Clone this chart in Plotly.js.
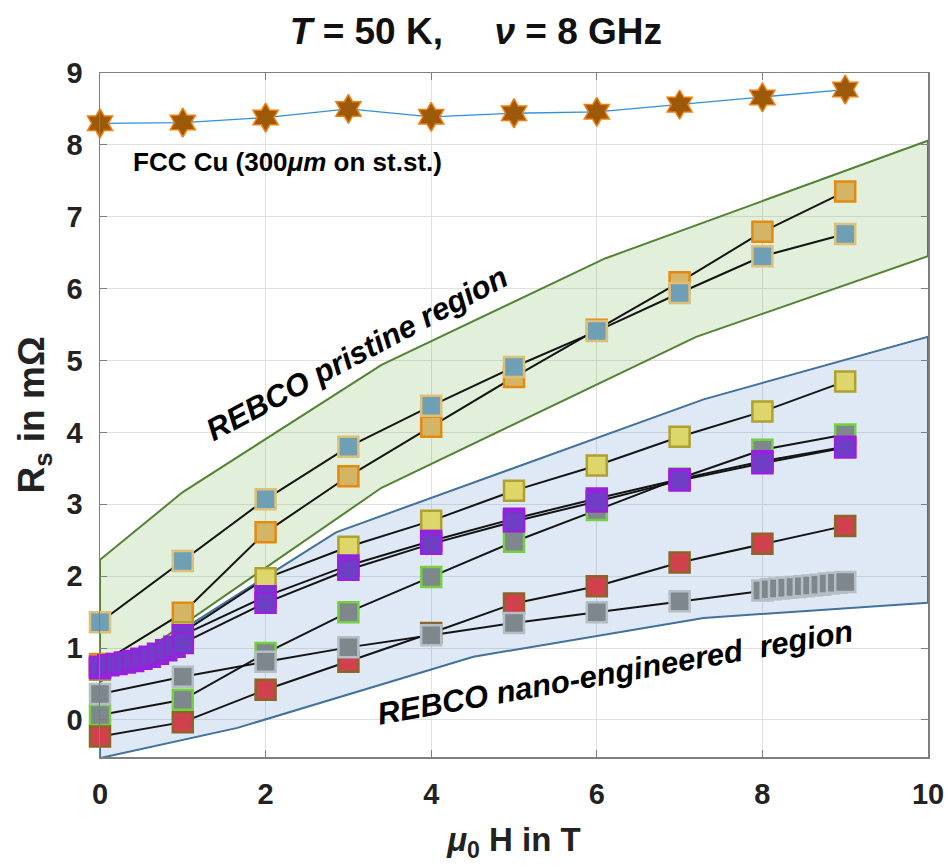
<!DOCTYPE html>
<html>
<head>
<meta charset="utf-8">
<script src="https://cdn.plot.ly/plotly-3.0.1.min.js"></script>
<style>html,body{margin:0;padding:0;background:#fff;}</style>
</head>
<body>
<div id="chart" style="width:948px;height:868px;"></div>
<script>
// ---- data ----
const xInt = [0, 1, 2, 3, 4, 5, 6, 7, 8, 9];

// FCC Cu reference (stars)
const cuY = [8.30, 8.31, 8.38, 8.50, 8.39, 8.44, 8.46, 8.56, 8.66, 8.77];

// REBCO pristine samples
const pristA_Y = [1.36, 2.21, 3.07, 3.80, 4.37, 4.91, 5.41, 5.94, 6.45, 6.76]; // steel-blue squares
const pristB_Y = [0.78, 1.49, 2.61, 3.39, 4.08, 4.77, 5.43, 6.09, 6.79, 7.35]; // tan squares

// REBCO nano-engineered samples
const yellowY = [0.70, 1.22, 1.97, 2.41, 2.77, 3.19, 3.54, 3.94, 4.29, 4.71];
const purple1X = [0, 0.1, 0.2, 0.3, 0.4, 0.5, 0.6, 0.7, 0.8, 0.9, 1.0, 2, 3, 4, 5, 6, 7, 8, 9];
const purple1Y = [0.74, 0.76, 0.78, 0.80, 0.82, 0.85, 0.88, 0.92, 0.97, 1.02, 1.07, 1.63, 2.09, 2.45, 2.76, 3.04, 3.33, 3.57, 3.79];
const purple2Y = [0.72, 1.18, 1.72, 2.15, 2.49, 2.80, 3.08, 3.35, 3.60, 3.80];
const greenGrayY = [0.07, 0.28, 0.93, 1.50, 1.99, 2.48, 2.92, 3.36, 3.76, 3.97];
const redY = [-0.23, -0.03, 0.42, 0.81, 1.21, 1.62, 1.86, 2.19, 2.45, 2.70];
const grayX = [0, 1, 2, 3, 4, 5, 6, 7, 8, 8.1, 8.2, 8.3, 8.4, 8.5, 8.6, 8.7, 8.8, 8.9, 9.0];
const grayY = [0.36, 0.60, 0.81, 1.01, 1.18, 1.35, 1.50, 1.65, 1.80, 1.82, 1.83, 1.84, 1.85, 1.86, 1.87, 1.88, 1.90, 1.91, 1.92];

// shaded regions (polygon outlines)
const pristBandX = [0, 1.0, 3.4, 6.1, 10, 10, 7.2, 3.4, 0, 0];
const pristBandY = [2.23, 3.17, 4.94, 6.42, 8.06, 6.45, 5.33, 3.23, 0.53, 2.23];
const nanoBandX = [0, 2.85, 7.29, 10, 10, 7.29, 4.51, 1.66, 0, 0];
const nanoBandY = [0.53, 2.61, 4.46, 5.33, 1.63, 1.42, 0.88, -0.11, -0.53, 0.53];

// tick labels
const xTicks = [0, 2, 4, 6, 8, 10];
const yTicks = [0, 1, 2, 3, 4, 5, 6, 7, 8, 9];

// ---- styling helpers ----
const lineStyle = {color: '#141414', width: 2};
function sq(fill, edge) {
  return {symbol: 'square', size: 20, color: fill, line: {color: edge, width: 2.5}};
}
function series(x, y, fill, edge) {
  return {x: x, y: y, type: 'scatter', mode: 'lines+markers', line: lineStyle,
          marker: sq(fill, edge), hoverinfo: 'skip', cliponaxis: false};
}

const traces = [
  {x: pristBandX, y: pristBandY, type: 'scatter', mode: 'lines', fill: 'toself',
   fillcolor: 'rgba(112,173,71,0.2)', line: {color: '#548235', width: 2}, hoverinfo: 'skip'},
  {x: nanoBandX, y: nanoBandY, type: 'scatter', mode: 'lines', fill: 'toself',
   fillcolor: 'rgba(91,145,205,0.2)', line: {color: '#41719c', width: 2}, hoverinfo: 'skip'},
  series(xInt, pristB_Y, '#d4b465', '#e48a10'),
  series(xInt, pristA_Y, '#6f9fb4', '#dcc07a'),
  series(xInt, yellowY, '#ddd66a', '#b0a030'),
  series(xInt, greenGrayY, '#7d878c', '#74d040'),
  series(xInt, redY, '#d0404d', '#8a6628'),
  series(grayX, grayY, '#7d878c', '#b4bec4'),
  series(xInt, purple2Y, '#6e3fc4', '#9a20e0'),
  series(purple1X, purple1Y, '#6e3fc4', '#9a20e0'),
  {x: xInt, y: cuY, type: 'scatter', mode: 'lines+markers', cliponaxis: false,
   line: {color: '#2f8fdc', width: 1.3},
   marker: {symbol: 'hexagram', size: 22, color: '#9c5a08', line: {color: '#f07f10', width: 1.5}},
   hoverinfo: 'skip'}
];

const FONT = 'Liberation Sans, Arial, sans-serif';
const NB = '\u00A0';

const layout = {
  width: 948, height: 868,
  margin: {l: 100, r: 20, t: 73, b: 111},
  paper_bgcolor: '#ffffff', plot_bgcolor: '#ffffff',
  showlegend: false,
  font: {family: FONT, color: '#1a1a1a'},
  title: {
    text: '<i>T</i> = 50 K,' + NB + NB + NB + NB + NB + '<i>ν</i> = 8 GHz',
    font: {family: FONT, size: 37, weight: 'bold', color: '#111'},
    xref: 'container', x: 0.502, xanchor: 'center',
    yref: 'container', y: 1 - 31 / 868, yanchor: 'middle'
  },
  xaxis: {
    range: [0, 10], tickvals: xTicks, ticktext: xTicks.map(String),
    showgrid: true, gridcolor: '#e0e0e0', gridwidth: 1, zeroline: false,
    showline: true, linecolor: '#7f7f7f', linewidth: 1.5, mirror: 'ticks',
    ticks: 'inside', ticklen: 7, tickcolor: '#7f7f7f', tickwidth: 1,
    tickfont: {family: FONT, size: 29, weight: 'bold', color: '#222'},
    ticklabelstandoff: 11,
    title: {text: '<i>μ</i><sub>0</sub> H in T', font: {family: FONT, size: 33, weight: 'bold', color: '#222'}, standoff: 18}
  },
  yaxis: {
    range: [-0.515, 9], tickvals: yTicks, ticktext: yTicks.map(String),
    showgrid: true, gridcolor: '#e0e0e0', gridwidth: 1, zeroline: false,
    showline: true, linecolor: '#7f7f7f', linewidth: 1.5, mirror: 'ticks',
    ticks: 'inside', ticklen: 7, tickcolor: '#7f7f7f', tickwidth: 1,
    tickfont: {family: FONT, size: 29, weight: 'bold', color: '#222'},
    ticklabelstandoff: 10,
    title: {text: 'R<sub>s</sub> in mΩ', font: {family: FONT, size: 37, weight: 'bold', color: '#222'}, standoff: 10}
  },
  annotations: [
    {text: 'FCC Cu (300<i>μm</i> on st.st.)', x: 0.38, y: 7.76, xref: 'x', yref: 'y',
     xanchor: 'left', yanchor: 'middle', showarrow: false,
     font: {family: FONT, size: 26, weight: 'bold', color: '#000'}},
    {text: '<i>REBCO pristine region</i>', x: 3.1, y: 5.1, xref: 'x', yref: 'y',
     xanchor: 'center', yanchor: 'middle', showarrow: false, textangle: -28,
     font: {family: FONT, size: 31, weight: 'bold', color: '#000'}},
    {text: '<i>REBCO nano-engineered' + NB + NB + 'region</i>', x: 6.22, y: 0.66, xref: 'x', yref: 'y',
     xanchor: 'center', yanchor: 'middle', showarrow: false, textangle: -10,
     font: {family: FONT, size: 31, weight: 'bold', color: '#000'}}
  ]
};

Plotly.newPlot('chart', traces, layout, {staticPlot: true, displayModeBar: false});
</script>
</body>
</html>
